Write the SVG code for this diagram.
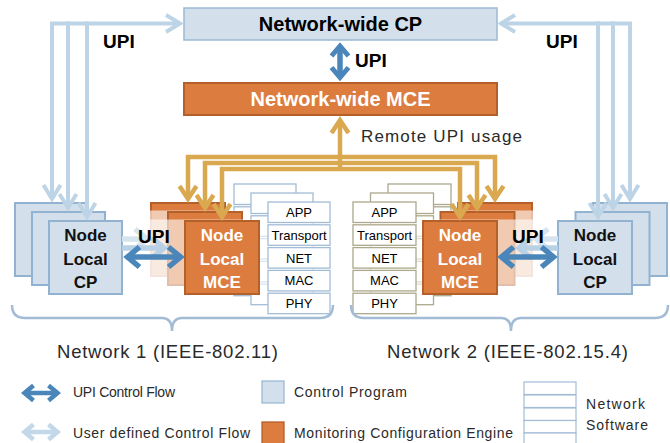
<svg xmlns="http://www.w3.org/2000/svg" width="670" height="443" viewBox="0 0 670 443">
<defs>
<style>
.cp{fill:#d3dfeb;stroke:#92b2d1;stroke-width:2}
.mce{fill:#dd7c3f;stroke:#b4602b;stroke-width:2}
.swl rect{fill:#fff;stroke:#a3bcd6;stroke-width:1.3}
.swr rect{fill:#fff;stroke:#aca98c;stroke-width:1.3}
.fade{fill:#fff;fill-opacity:0.6}
.nb{font-family:"Liberation Sans",Arial,sans-serif;font-weight:bold;font-size:17px;text-anchor:middle;fill:#111}
.nw{font-family:"Liberation Sans",Arial,sans-serif;font-weight:bold;font-size:17px;text-anchor:middle;fill:#fff}
.sl{font-family:"Liberation Sans",Arial,sans-serif;font-size:13px;text-anchor:middle;fill:#000}
.upi{font-family:"Liberation Sans",Arial,sans-serif;font-weight:bold;font-size:19px;fill:#000}
.lt{font-family:"Liberation Sans",Arial,sans-serif;fill:#2a2a2a}
.lb{fill:none;stroke:#bdd4e7;stroke-width:4}
.gd{fill:none;stroke:#d9a84f;stroke-width:4.5}
.bl{fill:none;stroke:#4a86b9;stroke-width:5.5}
</style>
<marker id="mLB" markerUnits="userSpaceOnUse" orient="auto-start-reverse" viewBox="-22 -14 28 28" markerWidth="28" markerHeight="28" refX="0" refY="0"><path d="M-14,-8.5 L0,0 L-14,8.5" fill="none" stroke="#bdd4e7" stroke-width="4"/></marker>
<marker id="mGD" markerUnits="userSpaceOnUse" orient="auto-start-reverse" viewBox="-22 -14 28 28" markerWidth="28" markerHeight="28" refX="0" refY="0"><path d="M-13,-8.5 L0,0 L-13,8.5" fill="none" stroke="#d9a84f" stroke-width="4.5"/></marker>
<marker id="mBL" markerUnits="userSpaceOnUse" orient="auto-start-reverse" viewBox="-20 -16 30 32" markerWidth="30" markerHeight="32" refX="0" refY="0"><path d="M-12,-10 L0,0 L-12,10" fill="none" stroke="#4a86b9" stroke-width="5.5"/></marker>
<marker id="mBLs" markerUnits="userSpaceOnUse" orient="auto-start-reverse" viewBox="-20 -16 30 32" markerWidth="30" markerHeight="32" refX="0" refY="0"><path d="M-10,-8.5 L0,0 L-10,8.5" fill="none" stroke="#4a86b9" stroke-width="5"/></marker>
<marker id="mF1" markerUnits="userSpaceOnUse" orient="auto-start-reverse" viewBox="-20 -16 30 32" markerWidth="30" markerHeight="32" refX="0" refY="0"><path d="M-12,-10 L0,0 L-12,10" fill="none" stroke="#b9d1e5" stroke-width="5.5"/></marker>
<marker id="mF2" markerUnits="userSpaceOnUse" orient="auto-start-reverse" viewBox="-20 -16 30 32" markerWidth="30" markerHeight="32" refX="0" refY="0"><path d="M-12,-10 L0,0 L-12,10" fill="none" stroke="#d6e4f0" stroke-width="5.5"/></marker>
<marker id="mLgB" markerUnits="userSpaceOnUse" orient="auto-start-reverse" viewBox="-16 -12 24 24" markerWidth="24" markerHeight="24" refX="0" refY="0"><path d="M-9,-7.5 L0,0 L-9,7.5" fill="none" stroke="#4a86b9" stroke-width="4.5"/></marker>
<marker id="mLgL" markerUnits="userSpaceOnUse" orient="auto-start-reverse" viewBox="-16 -12 24 24" markerWidth="24" markerHeight="24" refX="0" refY="0"><path d="M-9,-7.5 L0,0 L-9,7.5" fill="none" stroke="#c3d8e9" stroke-width="4.5"/></marker>
</defs>
<rect width="670" height="443" fill="#fff"/>

<!-- network-wide nodes -->
<g id="nw-cp">
<rect x="184" y="8" width="313" height="32" fill="#d3dfeb" stroke="#9bbad6" stroke-width="1.5"/>
<text x="340.5" y="31" font-family="Liberation Sans, Arial, sans-serif" font-weight="bold" font-size="20" text-anchor="middle" fill="#000">Network-wide CP</text>
</g>
<g id="nw-mce">
<rect x="184" y="83" width="313" height="32" class="mce"/>
<text x="340.5" y="106" font-family="Liberation Sans, Arial, sans-serif" font-weight="bold" font-size="20" text-anchor="middle" fill="#fff">Network-wide MCE</text>
</g>

<!-- Network 1 : back layer -->
<g id="n1-back">
<rect class="cp" x="15" y="203" width="73" height="73"/>
<rect class="mce" x="151" y="203" width="74" height="73"/>
<g class="swl"><rect x="234" y="184" width="62" height="20.5"/><rect x="234" y="206.8" width="62" height="20.5"/><rect x="234" y="229.6" width="62" height="20.5"/><rect x="234" y="252.4" width="62" height="20.5"/><rect x="234" y="275.2" width="62" height="20.5"/></g>
</g>
<rect class="fade" x="105" y="210.5" width="208" height="75.5"/>
<g id="n1-mid">
<rect class="cp" x="32" y="212" width="73" height="73"/>
<rect class="mce" x="168" y="212" width="74" height="73"/>
<g class="swl"><rect x="251" y="193" width="62" height="20.5"/><rect x="251" y="215.8" width="62" height="20.5"/><rect x="251" y="238.6" width="62" height="20.5"/><rect x="251" y="261.4" width="62" height="20.5"/><rect x="251" y="284.2" width="62" height="20.5"/></g>
</g>
<rect class="fade" x="122" y="219.5" width="208" height="75.5"/>
<g id="n1-cp">
<rect class="cp" x="49" y="221" width="73" height="73"/>
<text class="nb" x="85.5" y="241">Node</text>
<text class="nb" x="85.5" y="265">Local</text>
<text class="nb" x="85.5" y="288">CP</text>
</g>
<g id="n1-mce">
<rect class="mce" x="185" y="221" width="74" height="73"/>
<text class="nw" x="222" y="241">Node</text>
<text class="nw" x="222" y="265">Local</text>
<text class="nw" x="222" y="288">MCE</text>
</g>
<g id="n1-stack" class="swl">
<rect x="268" y="202" width="62" height="20.5"/><rect x="268" y="224.8" width="62" height="20.5"/><rect x="268" y="247.6" width="62" height="20.5"/><rect x="268" y="270.4" width="62" height="20.5"/><rect x="268" y="293.2" width="62" height="20.5"/>
<text class="sl" x="299" y="217">APP</text>
<text class="sl" x="299" y="239.8">Transport</text>
<text class="sl" x="299" y="262.6">NET</text>
<text class="sl" x="299" y="285.4">MAC</text>
<text class="sl" x="299" y="308.2">PHY</text>
</g>

<!-- Network 2 : back layer -->
<g id="n2-back">
<rect class="cp" x="593" y="203" width="74" height="73"/>
<rect class="mce" x="458" y="203" width="74" height="73"/>
<g class="swr"><rect x="388" y="184" width="63" height="20.5"/><rect x="388" y="206.8" width="63" height="20.5"/><rect x="388" y="229.6" width="63" height="20.5"/><rect x="388" y="252.4" width="63" height="20.5"/><rect x="388" y="275.2" width="63" height="20.5"/></g>
</g>
<rect class="fade" x="370" y="210.5" width="206" height="75.5"/>
<g id="n2-mid">
<rect class="cp" x="575.5" y="212" width="74" height="73"/>
<rect class="mce" x="440.5" y="212" width="74" height="73"/>
<g class="swr"><rect x="370.5" y="193" width="63" height="20.5"/><rect x="370.5" y="215.8" width="63" height="20.5"/><rect x="370.5" y="238.6" width="63" height="20.5"/><rect x="370.5" y="261.4" width="63" height="20.5"/><rect x="370.5" y="284.2" width="63" height="20.5"/></g>
</g>
<rect class="fade" x="353" y="219.5" width="205" height="75.5"/>
<g id="n2-cp">
<rect class="cp" x="558" y="221" width="74" height="73"/>
<text class="nb" x="595" y="241">Node</text>
<text class="nb" x="595" y="265">Local</text>
<text class="nb" x="595" y="288">CP</text>
</g>
<g id="n2-mce">
<rect class="mce" x="423" y="221" width="74" height="73"/>
<text class="nw" x="460" y="241">Node</text>
<text class="nw" x="460" y="265">Local</text>
<text class="nw" x="460" y="288">MCE</text>
</g>
<g id="n2-stack" class="swr">
<rect x="353" y="202" width="63" height="20.5"/><rect x="353" y="224.8" width="63" height="20.5"/><rect x="353" y="247.6" width="63" height="20.5"/><rect x="353" y="270.4" width="63" height="20.5"/><rect x="353" y="293.2" width="63" height="20.5"/>
<text class="sl" x="384.5" y="217">APP</text>
<text class="sl" x="384.5" y="239.8">Transport</text>
<text class="sl" x="384.5" y="262.6">NET</text>
<text class="sl" x="384.5" y="285.4">MAC</text>
<text class="sl" x="384.5" y="308.2">PHY</text>
</g>

<!-- connectors -->
<g id="connectors">
<path class="lb" d="M52,199 L52,23.5 L180,23.5" marker-start="url(#mLB)" marker-end="url(#mLB)"/>
<path class="lb" d="M68,208 L68,21.5" marker-start="url(#mLB)"/>
<path class="lb" d="M87,217 L87,21.5" marker-start="url(#mLB)"/>
<path class="lb" d="M630,199 L630,23.5 L501,23.5" marker-start="url(#mLB)" marker-end="url(#mLB)"/>
<path class="lb" d="M613,208 L613,21.5" marker-start="url(#mLB)"/>
<path class="lb" d="M598,217 L598,21.5" marker-start="url(#mLB)"/>

<path class="gd" d="M340,157 L188,157 L188,199" marker-end="url(#mGD)"/>
<path class="gd" d="M340,163 L205,163 L205,208" marker-end="url(#mGD)"/>
<path class="gd" d="M340,169 L222,169 L222,217" marker-end="url(#mGD)"/>
<path class="gd" d="M340,157 L495,157 L495,199" marker-end="url(#mGD)"/>
<path class="gd" d="M340,163 L477,163 L477,208" marker-end="url(#mGD)"/>
<path class="gd" d="M340,169 L460,169 L460,217" marker-end="url(#mGD)"/>
<path class="gd" d="M340,171 L340,120" stroke-width="6" marker-end="url(#mGD)"/>

<path class="bl" d="M340,46 L340,77.5" stroke-width="5" marker-start="url(#mBLs)" marker-end="url(#mBLs)"/>

<path d="M122,239 L147,239" fill="none" stroke="#d6e4f0" stroke-width="5.5" marker-end="url(#mF2)"/>
<path d="M122,248 L164,248" fill="none" stroke="#b9d1e5" stroke-width="5.5" marker-end="url(#mF1)"/>
<path d="M558,239 L536,239" fill="none" stroke="#d6e4f0" stroke-width="5.5" marker-end="url(#mF2)"/>
<path d="M558,248 L519,248" fill="none" stroke="#b9d1e5" stroke-width="5.5" marker-end="url(#mF1)"/>

<path class="bl" d="M127.5,257 L180.5,257" marker-start="url(#mBL)" marker-end="url(#mBL)"/>
<path class="bl" d="M501.5,257 L553.5,257" marker-start="url(#mBL)" marker-end="url(#mBL)"/>

<text class="upi" x="103" y="48">UPI</text>
<text class="upi" x="546" y="48">UPI</text>
<text class="upi" x="355" y="67">UPI</text>
<text class="upi" x="138" y="243">UPI</text>
<text class="upi" x="512" y="243">UPI</text>
<text class="lt" x="361" y="142" font-size="17" textLength="161">Remote UPI usage</text>
</g>

<!-- braces -->
<g id="braces" fill="none" stroke="#a3bcd6" stroke-width="2.5">
<path d="M12,305 Q12,318 25,318 L162,318 Q172,318 172,331 Q172,318 182,318 L320,318 Q333,318 333,305"/>
<path d="M351,305 Q351,318 364,318 L501,318 Q511,318 511,331 Q511,318 521,318 L655,318 Q668,318 668,305"/>
</g>
<text class="lt" x="57" y="358" font-size="18.5" textLength="221">Network 1 (IEEE-802.11)</text>
<text class="lt" x="387" y="358" font-size="18.5" textLength="241">Network 2 (IEEE-802.15.4)</text>

<!-- legend -->
<g id="legend">
<path d="M24.5,393 L57.5,393" fill="none" stroke="#4a86b9" stroke-width="4.5" marker-start="url(#mLgB)" marker-end="url(#mLgB)"/>
<text class="lt" x="73" y="397" font-size="14" textLength="102">UPI Control Flow</text>
<path d="M24.5,432 L57.5,432" fill="none" stroke="#c3d8e9" stroke-width="4.5" marker-start="url(#mLgL)" marker-end="url(#mLgL)"/>
<text class="lt" x="73" y="438" font-size="14" textLength="177">User defined Control Flow</text>
<rect x="262" y="381" width="22" height="22" fill="#d3dfeb" stroke="#9bbad6" stroke-width="1.3"/>
<text class="lt" x="294" y="397" font-size="14" textLength="113">Control Program</text>
<rect x="262" y="422" width="22" height="22" fill="#dd7c3f" stroke="#b4602b" stroke-width="1.3"/>
<text class="lt" x="294" y="438" font-size="14" textLength="219">Monitoring Configuration Engine</text>
<g fill="#fff" stroke="#a3bcd6" stroke-width="1.2">
<rect x="524" y="382" width="52" height="12.5"/>
<rect x="524" y="395" width="52" height="12.5"/>
<rect x="524" y="408" width="52" height="12.5"/>
<rect x="524" y="420.5" width="52" height="12.5"/>
<rect x="524" y="433" width="52" height="12.5"/>
</g>
<text class="lt" x="586" y="409" font-size="14" textLength="59">Network</text>
<text class="lt" x="586" y="430" font-size="14" textLength="62">Software</text>
</g>
</svg>
